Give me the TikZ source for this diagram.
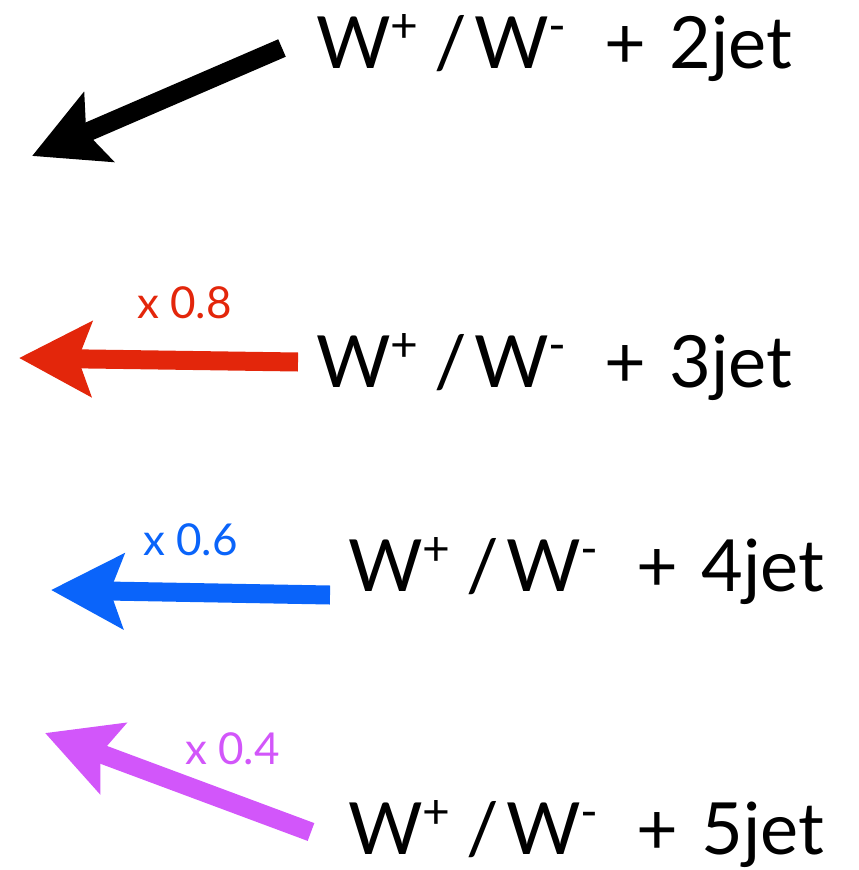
\documentclass[tikz,border=0pt]{standalone}
\usepackage{fontspec}
\setmainfont{Lato}
\usetikzlibrary{arrows.meta}
\definecolor{cred}{RGB}{227,38,11}
\definecolor{cblue}{RGB}{10,100,250}
\definecolor{cpurple}{RGB}{210,86,250}
\newcommand{\wsup}[1]{\raisebox{0.36em}{\fontsize{48}{48}\selectfont #1}}
\newcommand{\wline}[1]{W\wsup{+}\hspace{0.22em}/\hspace{0.1em}W\wsup{-}\hspace{0.52em}+\hspace{0.33em}#1jet}
\tikzset{
  big/.style={anchor=base west, inner sep=0pt, font=\fontsize{72}{80}\selectfont},
  factor/.style={anchor=base west, inner sep=0pt, font=\fontsize{44}{50}\selectfont},
  fatarrow/.style={line width=19pt, -{Stealth[length=72pt, width=74pt, inset=13pt]}},
}
\begin{document}
\begin{tikzpicture}[x=1pt, y=-1pt]
\useasboundingbox (0,0) rectangle (859,870);
% texts
\node[big] (t2) at (316,68) {\wline{2}};
\node[big] (t3) at (316,387) {\wline{3}};
\node[big] (t4) at (348,591) {\wline{4}};
\node[big] (t5) at (348,854) {\wline{5}};
% factors
\node[factor, text=cred] (f3) at (137,318) {x 0.8};
\node[factor, text=cblue] (f4) at (143,555) {x 0.6};
\node[factor, text=cpurple] (f5) at (185,764) {x 0.4};
% arrow ends
\coordinate (s2) at (282,48);  \coordinate (e2) at (32,156);
\coordinate (s3) at (298,362); \coordinate (e3) at (19,358);
\coordinate (s4) at (330,595); \coordinate (e4) at (51,590);
\coordinate (s5) at (311,832); \coordinate (e5) at (45,733);
\draw[fatarrow, black] (s2) -- (e2);
\draw[fatarrow, cred] (s3) -- (e3);
\draw[fatarrow, cblue] (s4) -- (e4);
\draw[fatarrow, cpurple] (s5) -- (e5);
\end{tikzpicture}
\end{document}
